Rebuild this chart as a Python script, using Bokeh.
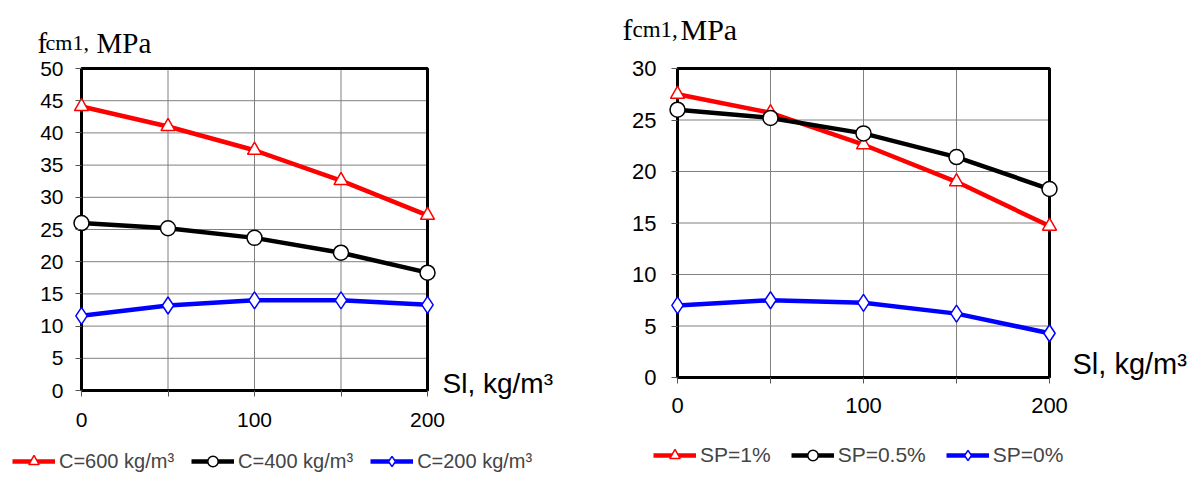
from bokeh.plotting import figure
from bokeh.models import Range1d, FixedTicker, Label, Legend, LegendItem
from bokeh.layouts import row
from bokeh.embed import file_html
from bokeh.resources import INLINE

# ---- data ----
sl = [0, 50, 100, 150, 200]
c600 = [44.1, 41.0, 37.3, 32.6, 27.2]
c400 = [26.0, 25.2, 23.7, 21.4, 18.3]
c200 = [11.6, 13.2, 14.0, 14.0, 13.3]
sp1 = [27.5, 25.7, 22.6, 19.0, 14.7]
sp05 = [26.0, 25.2, 23.7, 21.4, 18.3]
sp0 = [7.0, 7.5, 7.25, 6.2, 4.3]
left_names = ["C=600 kg/m³", "C=400 kg/m³", "C=200 kg/m³"]
right_names = ["SP=1%", "SP=0.5%", "SP=0%"]
x_ticks = [0, 50, 100, 150, 200]
x_tick_text = {0: "0", 50: "", 100: "100", 150: "", 200: "200"}
left_yticks = [0, 5, 10, 15, 20, 25, 30, 35, 40, 45, 50]
right_yticks = [0, 5, 10, 15, 20, 25, 30]
x_title = "Sl, kg/m³"
y_title = ["f", "cm1,", "MPa"]

SANS = "Liberation Sans"
SERIF = "Liberation Serif"
styles = [
    dict(color="#ff0000", marker="triangle", size=14),
    dict(color="#000000", marker="circle", size=15),
    dict(color="#0000ff", marker="diamond", size=17),
]


def make_chart(series, names, yticks, fig_w, fig_h, box, tick_fs, leg_fs, leg_loc,
               leg_spacing, ytitle_px, ytitle_sizes, ytitle_offsets, xtitle_px,
               xtitle_fs, y_standoff, x_standoff):
    bl, br, bt, bb = box  # pixel edges of the chart box inside the figure
    x0, x1 = x_ticks[0], x_ticks[-1]
    y0, y1 = yticks[0], yticks[-1]
    kx = (br - bl) / (x1 - x0)
    ky = (bb - bt) / (y1 - y0)
    xr = Range1d(x0 - bl / kx, x1 + (fig_w - br) / kx)
    yr = Range1d(y0 - (fig_h - bb) / ky, y1 + bt / ky)

    def dx(px):
        return x0 + (px - bl) / kx

    def dy(py):
        return y0 + (bb - py) / ky

    p = figure(width=fig_w, height=fig_h, output_backend="svg", toolbar_location=None,
               x_range=xr, y_range=yr, min_border=0, title=None)
    p.background_fill_color = "white"
    p.border_fill_color = "white"
    p.outline_line_color = None
    p.xgrid.visible = False
    p.ygrid.visible = False

    p.xaxis.ticker = FixedTicker(ticks=x_ticks)
    p.xaxis.major_label_overrides = x_tick_text
    p.yaxis.ticker = FixedTicker(ticks=yticks)
    p.xaxis.fixed_location = y0
    p.yaxis.fixed_location = x0
    p.xaxis.bounds = (x0, x1)
    p.yaxis.bounds = (y0, y1)
    for ax in (p.xaxis, p.yaxis):
        ax.axis_line_color = None
        ax.major_tick_line_color = "#555555"
        ax.major_tick_out = 6
        ax.major_tick_in = 0
        ax.minor_tick_line_color = None
        ax.major_label_text_font = SANS
        ax.major_label_text_font_size = tick_fs
        ax.major_label_text_color = "black"
    p.yaxis.major_label_standoff = y_standoff
    p.xaxis.major_label_standoff = x_standoff

    # grid lines inside the chart box, at the tick positions
    p.segment(x0=x_ticks, y0=[y0] * len(x_ticks), x1=x_ticks, y1=[y1] * len(x_ticks),
              line_color="#808080", line_width=1)
    p.segment(x0=[x0] * len(yticks), y0=yticks, x1=[x1] * len(yticks), y1=yticks,
              line_color="#808080", line_width=1)
    # chart box
    p.quad(left=[x0], right=[x1], bottom=[y0], top=[y1], fill_color=None,
           line_color="black", line_width=3)

    items = []
    for ys, name, st in zip(series, names, styles):
        lr = p.line(sl, ys, line_color=st["color"], line_width=4.5)
        sr = p.scatter(sl, ys, marker=st["marker"], size=st["size"],
                       line_color=st["color"], fill_color="white", line_width=1.5)
        items.append(LegendItem(label=name, renderers=[lr, sr]))

    leg = Legend(items=items, orientation="horizontal", location=leg_loc,
                 padding=0, margin=0, spacing=leg_spacing, glyph_width=43,
                 glyph_height=26, label_height=26, label_standoff=4,
                 label_text_font=SANS, label_text_font_size=leg_fs,
                 background_fill_alpha=0, border_line_color=None)
    p.add_layout(leg, "center")

    for txt, fs, off in zip(y_title, ytitle_sizes, ytitle_offsets):
        p.add_layout(Label(x=dx(ytitle_px[0]), y=dy(ytitle_px[1]), x_offset=off, text=txt,
                           text_font=SERIF, text_font_size=fs,
                           text_baseline="alphabetic", text_color="black"))
    p.add_layout(Label(x=dx(xtitle_px[0]), y=dy(xtitle_px[1]), text=x_title,
                       text_font=SANS, text_font_size=xtitle_fs,
                       text_baseline="alphabetic", text_color="black"))
    return p


left = make_chart([c600, c400, c200], left_names, left_yticks, 600, 485,
                  (81, 427, 68, 390), "21px", "20px", (12, 11), 17,
                  (37, 42), ("29px", "22px", "29px"), (0, 8, 59),
                  (442, 383), "28px", 12, 16)
right = make_chart([sp1, sp05, sp0], right_names, right_yticks, 592, 485,
                   (77, 449, 68, 377), "22px", "21px", (53, 17), 20,
                   (22, 29), ("30px", "23px", "30px"), (0, 10, 58),
                   (472, 363), "29px", 15, 14)

layout = row(left, right)
open("out.html", "w").write(file_html(layout, INLINE))
